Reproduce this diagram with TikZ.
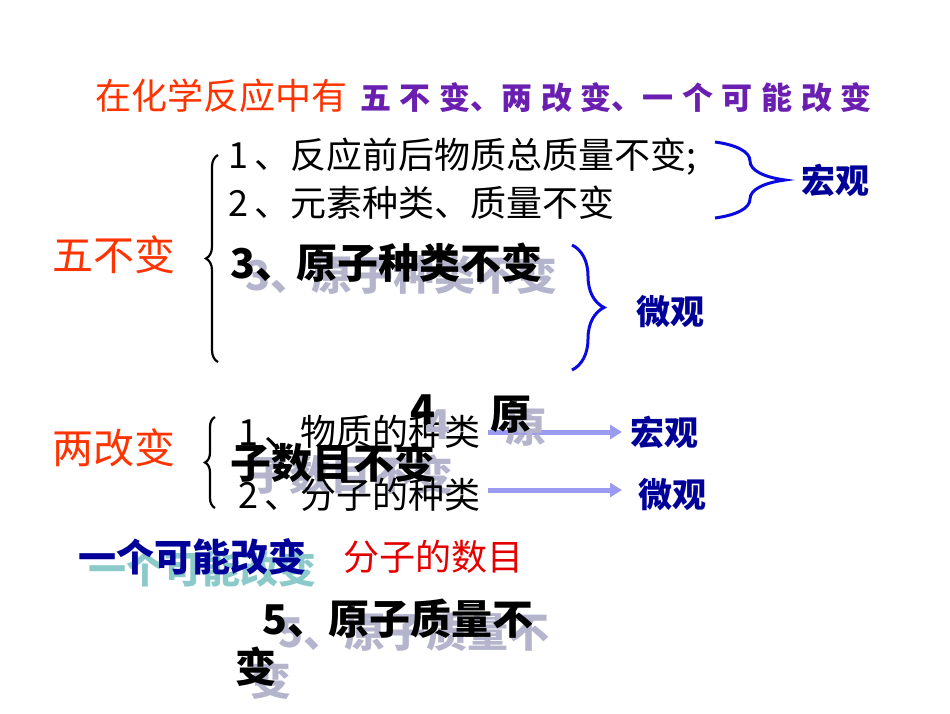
\documentclass[tikz,border=0pt]{standalone}
\usepackage{fontspec}
\setmainfont{Liberation Sans}
\newfontfamily\cjk{Noto Sans CJK SC}
\usetikzlibrary{decorations.pathreplacing,arrows.meta}
\definecolor{tred}{HTML}{FF3300}
\definecolor{tpur}{HTML}{6A1FB0}
\definecolor{tblue}{HTML}{000099}
\definecolor{shad}{HTML}{B4B4CC}
\definecolor{shadc}{HTML}{8CCACA}
\definecolor{arr}{HTML}{9A9AF0}
\definecolor{br}{HTML}{0A0AE0}
\tikzset{
 t/.style={anchor=west,inner sep=0pt,font=\cjk\fontsize{36}{36}\selectfont},
 tb/.style={t,font=\cjk\bfseries\fontsize{36}{36}\selectfont},
 tbb/.style={t,font=\cjk\bfseries\fontsize{41}{41}\selectfont},
 big/.style={anchor=west,inner sep=0pt,text=tred,font=\cjk\fontsize{41}{41}\selectfont},
 sh/.style={text=shad},
 lab/.style={inner sep=0pt,text=tblue,font=\cjk\bfseries\fontsize{34}{34}\selectfont},
 bbrace/.style={draw=br,line width=3pt,decorate,decoration={brace,amplitude=#1}},
 kbrace/.style={draw=black,line width=2.2pt,decorate,decoration={brace,amplitude=#1}},
 ar/.style={draw=arr,line width=5pt,-{Triangle[length=12pt,width=14pt]}}
}
\begin{document}
\begin{tikzpicture}[x=1pt,y=-1pt]
\useasboundingbox (0,0) rectangle (950,713);
% title
\node[t,text=tred] (ti1) at (95,96) {在化学反应中有};
\node[tb,text=tpur,font=\cjk\bfseries\fontsize{31}{31}\selectfont] (ti2) at (360,98) {五\;不\;变、两\;改\;变、一\;个\;可\;能\;改\;变};
% five unchanged
\node[big] (wbb) at (52,255) {五不变};
\node[t] (i1) at (228,157) {1\,、反应前后物质总质量不变;};
\node[t] (i2) at (228,203) {2\,、元素种类、质量不变};
\node[tbb,sh] (i3s) at (245,275) {3、原子种类不变};
\node[tbb] (i3) at (230,263) {3、原子种类不变};
\coordinate (k1a) at (218,362); \coordinate (k1b) at (218,155);
\draw[kbrace=12pt] (k1a) -- (k1b);
\coordinate (b1a) at (715,142); \coordinate (b1b) at (715,218);
\draw[bbrace=70pt] (b1a) -- (b1b);
\node[lab] (hg1) at (835,180) {宏观};
\coordinate (b2a) at (572,245); \coordinate (b2b) at (572,370);
\draw[bbrace=32pt] (b2a) -- (b2b);
\node[lab] (wg1) at (670,312) {微观};
% two changes
\node[big] (lgb) at (52,448) {两改变};
\coordinate (k2a) at (215,508); \coordinate (k2b) at (215,417);
\draw[kbrace=10pt] (k2a) -- (k2b);
\node[t] (j1) at (238,432) {1\,、物质的种类};
\draw[ar] ([xshift=8pt]j1.east) coordinate (a1s) -- (622,432) coordinate (a1e);
\draw[ar] (a1s |- 0,490) coordinate (a2s) -- (622,490) coordinate (a2e);
\node[tbb,sh] (f4s) at (425,425) {4};
\node[tbb,sh] (fys) at (505,428) {原};
\node[tbb,sh] (zss) at (248,475) {子数目不变};
\node[tbb] (f4) at (410,410) {4};
\node[tbb] (fy) at (490,415) {原};
\node[tbb] (zs) at (230,463) {子数目不变};
\node[t] (j2) at (238,495) {2\,、分子的种类};
\node[lab] (hg2) at (664,432) {宏观};
\node[lab] (wg2) at (672,495) {微观};
% one possible change
\node[tb,text=shadc,font=\cjk\bfseries\fontsize{38}{38}\selectfont] (ygs) at (88,569) {一个可能改变};
\node[tb,text=tblue,font=\cjk\bfseries\fontsize{38}{38}\selectfont] (yg) at (78,557) {一个可能改变};
\node[t,text=red!90!black] (fz) at (343,557) {分子的数目};
\node[tbb,sh] (w5s) at (278,632) {5、原子质量不};
\node[tbb,sh] (bs) at (250,680) {变};
\node[tbb] (w5) at (262,619) {5、原子质量不};
\node[tbb] (b) at (235,667) {变};
\end{tikzpicture}
\end{document}
